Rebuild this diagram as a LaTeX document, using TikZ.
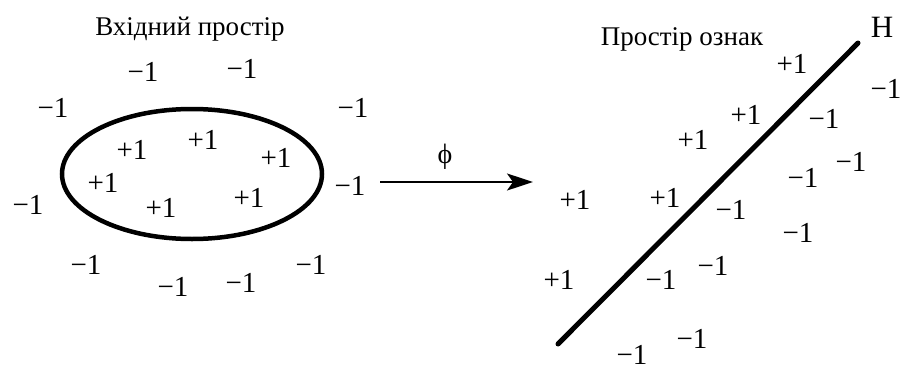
\documentclass[tikz,border=0pt]{standalone}
\usepackage{fontspec}
\setmainfont{Liberation Serif}
\usetikzlibrary{arrows.meta}
\begin{document}
\begin{tikzpicture}[x=1pt,y=-1pt,
  num/.style={inner sep=0pt,font=\fontsize{29}{32}\selectfont,text height=19pt,text depth=0pt},
  ttl/.style={inner sep=0pt,anchor=base,font=\fontsize{27}{30}\selectfont},
  thick line/.style={line width=5pt,line cap=round},
  maparrow/.style={line width=1.8pt,-{Stealth[length=26pt,width=17pt,inset=6pt]}}]
\useasboundingbox (0,0) rectangle (902,372);
% left: input space
\node[ttl] (t1) at (190,35) {Вхідний простір};
\draw[line width=4.5pt] (192,174) ellipse [x radius=130, y radius=65];
\node[num] (a1) at (143,72) {−1};
\node[num] (a2) at (242,69) {−1};
\node[num] (a3) at (53,108) {−1};
\node[num] (a4) at (353,108) {−1};
\node[num] (a5) at (132,150) {+1};
\node[num] (a6) at (203,140) {+1};
\node[num] (a7) at (276,158) {+1};
\node[num] (a8) at (103,183) {+1};
\node[num] (a9) at (161,208) {+1};
\node[num] (a10) at (249,198) {+1};
\node[num] (a11) at (350,186) {−1};
\node[num] (a12) at (28,205) {−1};
\node[num] (a13) at (86,265) {−1};
\node[num] (a14) at (173,287) {−1};
\node[num] (a15) at (241,283) {−1};
\node[num] (a16) at (311,265) {−1};
% mapping arrow
\coordinate (s) at (380,182);
\coordinate (e) at (533,182);
\draw[maparrow] (s) -- (e);
\node[inner sep=0pt,font=\fontsize{28}{30}\selectfont] (phi) at (445,157) {ϕ};
% right: feature space
\node[ttl] (t2) at (682,45) {Простір ознак};
\node[ttl,font=\fontsize{31}{34}\selectfont] (H) at (882,37) {H};
\coordinate (h1) at (558,344);
\coordinate (h2) at (858,43);
\draw[thick line] (h1) -- (h2);
\node[num] (b1) at (792,64) {+1};
\node[num] (b2) at (886,89) {−1};
\node[num] (b3) at (746,115) {+1};
\node[num] (b4) at (824,119) {−1};
\node[num] (b5) at (693,140) {+1};
\node[num] (b6) at (851,162) {−1};
\node[num] (b7) at (803,178) {−1};
\node[num] (b8) at (575,200) {+1};
\node[num] (b9) at (665,198) {+1};
\node[num] (b10) at (731,210) {−1};
\node[num] (b11) at (798,233) {−1};
\node[num] (b12) at (713,266) {−1};
\node[num] (b13) at (559,280) {+1};
\node[num] (b14) at (661,280) {−1};
\node[num] (b15) at (692,339) {−1};
\node[num] (b16) at (632,355) {−1};
\end{tikzpicture}
\end{document}
